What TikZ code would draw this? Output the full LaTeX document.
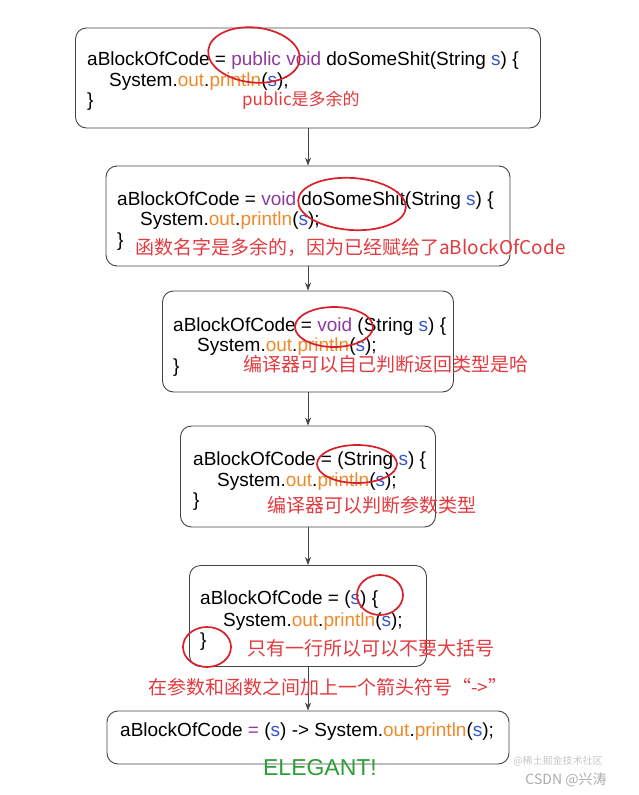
\documentclass[tikz,border=0pt]{standalone}
\usepackage{fontspec}
\setmainfont{Liberation Sans}
\newfontfamily\cjk{Noto Sans CJK SC}
\usetikzlibrary{arrows.meta,shapes.geometric}
\definecolor{kwPurple}{HTML}{8E3A9E}
\definecolor{memOrange}{HTML}{EE8A2A}
\definecolor{varBlue}{HTML}{3355CC}
\definecolor{noteRed}{HTML}{E23A3F}
\definecolor{ringRed}{HTML}{D8202A}
\definecolor{elegantGreen}{HTML}{2E9E36}
\definecolor{boxLine}{HTML}{444444}
\newcommand{\kwd}[1]{\textcolor{kwPurple}{#1}}
\newcommand{\memb}[1]{\textcolor{memOrange}{#1}}
\newcommand{\varb}[1]{\textcolor{varBlue}{#1}}
\begin{document}
\begin{tikzpicture}[x=1pt,y=-1pt,
  codebox/.style={draw=boxLine, line width=0.9pt, rounded corners=11pt, inner sep=0pt},
  code/.style={anchor=base west, inner sep=0pt, font=\fontsize{19}{22}\selectfont},
  note/.style={anchor=west, inner sep=0pt, text=noteRed, font=\cjk\fontsize{19}{22}\selectfont},
  ring/.style={draw=ringRed, line width=1.7pt, ellipse, inner sep=0pt},
  flow/.style={-{Stealth[length=8pt,width=6pt]}, boxLine, line width=0.7pt}]
  \useasboundingbox (0,0) rectangle (638,795);
  % the six steps
  \node[codebox, minimum width=465pt, minimum height=100pt] (blk1) at (308,78) {};
  \node[codebox, minimum width=404pt, minimum height=100pt] (blk2) at (308,216) {};
  \node[codebox, minimum width=291pt, minimum height=101pt] (blk3) at (308,341.5) {};
  \node[codebox, minimum width=255pt, minimum height=101pt] (blk4) at (308,476.5) {};
  \node[codebox, minimum width=237pt, minimum height=101pt] (blk5) at (308,616) {};
  \node[codebox, minimum width=402pt, minimum height=53pt] (blk6) at (308,737.5) {};
  \foreach \a/\b in {blk1/blk2,blk2/blk3,blk3/blk4,blk4/blk5,blk5/blk6} {
      \draw[flow] (\a) -- (\b);
  }
  % step 1
  \node[code] (c11) at (87,65) {aBlockOfCode = \kwd{public} \kwd{void} doSomeShit(String \varb{s}) \{};
  \node[code] (c12) at (109,86) {System.\memb{out}.\memb{println}(\varb{s});};
  \node[code] (c13) at (87,106) {\}};
  \node[note, font=\cjk\fontsize{17}{20}\selectfont] (n1) at (242,100) {public是多余的};
  \node[ring, minimum width=92pt, minimum height=55pt, rotate=-6] (r1) at (254,55) {};
  % step 2
  \node[code] (c21) at (117,205) {aBlockOfCode = \kwd{void} doSomeShit(String \varb{s}) \{};
  \node[code] (c22) at (140,225) {System.\memb{out}.\memb{println}(\varb{s});};
  \node[code] (c23) at (117,246) {\}};
  \node[note] (n2) at (135,247) {函数名字是多余的，因为已经赋给了aBlockOfCode};
  \node[ring, minimum width=108pt, minimum height=52pt, rotate=-4] (r2) at (352,204) {};
  % step 3
  \node[code] (c31) at (173,331) {aBlockOfCode = \kwd{void} (String \varb{s}) \{};
  \node[code] (c32) at (197,351) {System.\memb{out}.\memb{println}(\varb{s});};
  \node[code] (c33) at (173,372) {\}};
  \node[note] (n3) at (243,364) {编译器可以自己判断返回类型是哈};
  \node[ring, minimum width=78pt, minimum height=40pt] (r3) at (334,327) {};
  % step 4
  \node[code] (c41) at (193,465) {aBlockOfCode = (String \varb{s}) \{};
  \node[code] (c42) at (217,486) {System.\memb{out}.\memb{println}(\varb{s});};
  \node[code] (c43) at (193,506) {\}};
  \node[note] (n4) at (267,505) {编译器可以判断参数类型};
  \node[ring, minimum width=80pt, minimum height=38pt] (r4) at (357,464) {};
  % step 5
  \node[code] (c51) at (200,604) {aBlockOfCode = (\varb{s}) \{};
  \node[code] (c52) at (223,626) {System.\memb{out}.\memb{println}(\varb{s});};
  \node[code] (c53) at (200,646) {\}};
  \node[note] (n5) at (247,648) {只有一行所以可以不要大括号};
  \node[ring, minimum width=46pt, minimum height=40pt] (r5) at (380,595) {};
  \node[ring, minimum width=48pt, minimum height=40pt] (r6) at (207,647) {};
  \node[note] (n6) at (148,687) {在参数和函数之间加上一个箭头符号“->”};
  % step 6
  \node[code] (c61) at (120,736) {aBlockOfCode \kwd{=} (\varb{s}) -> System.\memb{out}.\memb{println}(\varb{s});};
  \node[inner sep=0pt, text=elegantGreen, font=\fontsize{23}{26}\selectfont] (elegant) at (320,768) {ELEGANT!};
  % watermark
  \node[inner sep=0pt, text=gray!45, font=\cjk\fontsize{10}{12}\selectfont] (wm1) at (558,761) {@稀土掘金技术社区};
  \node[inner sep=0pt, text=gray!65, font=\cjk\fontsize{14}{16}\selectfont] (wm2) at (566,780) {CSDN @兴涛};
\end{tikzpicture}
\end{document}
